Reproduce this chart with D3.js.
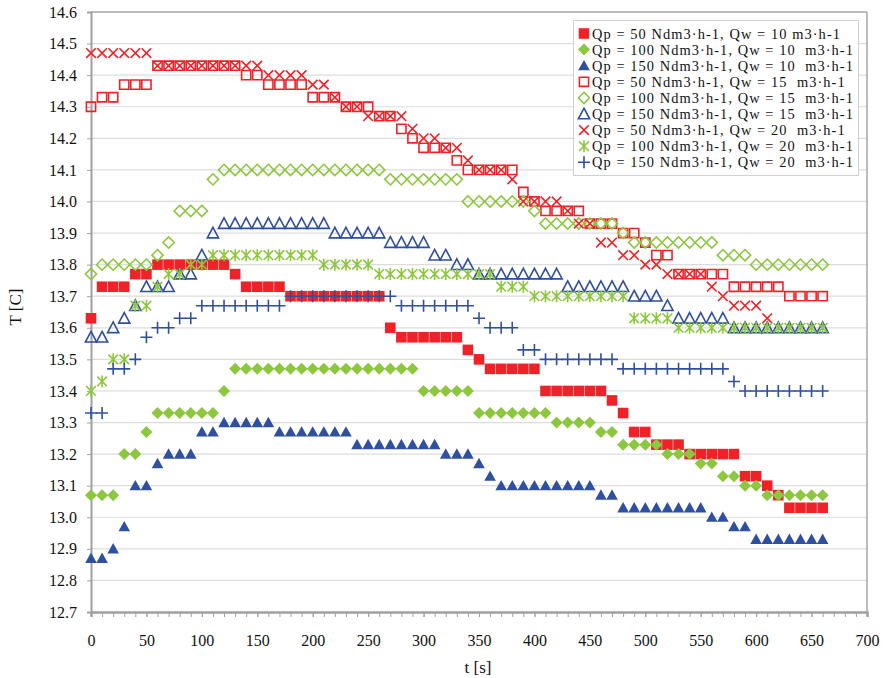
<!DOCTYPE html>
<html><head><meta charset="utf-8">
<script src="https://cdn.jsdelivr.net/npm/d3@7/dist/d3.min.js"></script>
<style>
html,body{margin:0;padding:0;background:#fff;}
svg{display:block;font-family:"Liberation Serif","Times New Roman",serif;}
</style></head>
<body><svg id="c" width="884" height="678"></svg>
<script>
// time axis (s)
const times = d3.range(0, 661, 10);
const xTicks = [0,50,100,150,200,250,300,350,400,450,500,550,600,650,700];
const yTicks = [12.7,12.8,12.9,13.0,13.1,13.2,13.3,13.4,13.5,13.6,13.7,13.8,13.9,14.0,14.1,14.2,14.3,14.4,14.5,14.6];

function runs(list){ const out=[]; list.forEach(([v,n])=>{for(let i=0;i<n;i++) out.push(v);}); return out; }

// Qp = 50, Qw = 10 (filled red squares)
const s50_10 = runs([[13.63,1],[13.73,3],[13.77,2],[13.8,7],[13.77,1],[13.73,4],[13.7,9],[13.6,1],[13.57,6],[13.53,1],[13.5,1],[13.47,5],[13.4,6],[13.37,1],[13.33,1],[13.27,2],[13.23,3],[13.2,5],[13.13,2],[13.1,1],[13.07,1],[13.03,4]]);
// Qp = 100, Qw = 10 (filled green diamonds)
const s100_10 = runs([[13.07,3],[13.2,2],[13.27,1],[13.33,6],[13.4,1],[13.47,17],[13.4,5],[13.33,7],[13.3,4],[13.27,2],[13.23,4],[13.2,3],[13.17,2],[13.13,2],[13.1,2],[13.07,6]]);
// Qp = 150, Qw = 10 (filled blue triangles)
const s150_10 = runs([[12.87,2],[12.9,1],[12.97,1],[13.1,2],[13.17,1],[13.2,3],[13.27,2],[13.3,5],[13.27,7],[13.23,8],[13.2,3],[13.17,1],[13.13,1],[13.1,9],[13.07,2],[13.03,8],[13.0,2],[12.97,2],[12.93,7]]);
// Qp = 50, Qw = 15 (open red squares)
const s50_15 = runs([[14.3,1],[14.33,2],[14.37,3],[14.43,8],[14.4,2],[14.37,4],[14.33,3],[14.3,3],[14.27,2],[14.23,1],[14.2,1],[14.17,3],[14.13,1],[14.1,5],[14.03,1],[14.0,1],[13.97,4],[13.93,3],[13.9,2],[13.87,1],[13.83,2],[13.77,5],[13.73,5],[13.7,4]]);
// Qp = 100, Qw = 15 (open green diamonds)
const s100_15 = runs([[13.77,1],[13.8,5],[13.83,1],[13.87,1],[13.97,3],[14.07,1],[14.1,15],[14.07,7],[14.0,6],[13.97,1],[13.93,7],[13.9,1],[13.87,8],[13.83,3],[13.8,7]]);
// Qp = 150, Qw = 15 (open blue triangles)
const s150_15 = runs([[13.57,2],[13.6,1],[13.63,1],[13.67,1],[13.73,3],[13.77,2],[13.83,1],[13.9,1],[13.93,10],[13.9,5],[13.87,4],[13.83,2],[13.8,2],[13.77,8],[13.73,6],[13.7,3],[13.67,1],[13.63,5],[13.6,9]]);
// Qp = 50, Qw = 20 (red x) - ends at 610 s
const s50_20 = runs([[14.47,6],[14.43,10],[14.4,4],[14.37,2],[14.33,1],[14.3,2],[14.27,4],[14.23,1],[14.2,2],[14.17,2],[14.13,1],[14.1,3],[14.07,1],[14.0,4],[13.97,1],[13.93,2],[13.87,2],[13.83,2],[13.8,2],[13.77,4],[13.73,1],[13.7,1],[13.67,3],[13.63,1]]);
// Qp = 100, Qw = 20 (green asterisks)
const s100_20 = runs([[13.4,1],[13.43,1],[13.5,2],[13.67,2],[13.73,1],[13.77,2],[13.8,2],[13.83,10],[13.8,5],[13.77,11],[13.73,3],[13.7,9],[13.63,4],[13.6,14]]);
// Qp = 150, Qw = 20 (blue plus)
const s150_20 = runs([[13.33,2],[13.47,2],[13.5,1],[13.57,1],[13.6,2],[13.63,2],[13.67,8],[13.7,10],[13.67,7],[13.63,1],[13.6,3],[13.53,2],[13.5,7],[13.47,10],[13.43,1],[13.4,8]]);

const labels = [
  "Qp = 50 Ndm3·h-1, Qw = 10 m3·h-1",
  "Qp = 100 Ndm3·h-1, Qw = 10  m3·h-1",
  "Qp = 150 Ndm3·h-1, Qw = 10  m3·h-1",
  "Qp = 50 Ndm3·h-1, Qw = 15  m3·h-1",
  "Qp = 100 Ndm3·h-1, Qw = 15  m3·h-1",
  "Qp = 150 Ndm3·h-1, Qw = 15  m3·h-1",
  "Qp = 50 Ndm3·h-1, Qw = 20  m3·h-1",
  "Qp = 100 Ndm3·h-1, Qw = 20  m3·h-1",
  "Qp = 150 Ndm3·h-1, Qw = 20  m3·h-1"
];

const RED="#ee2228", GREEN="#8dc63f", BLUE="#2f4f9f";
const series = [
  {vals:s50_10, shape:"square", fill:true, color:RED},
  {vals:s100_10, shape:"diamond", fill:true, color:GREEN},
  {vals:s150_10, shape:"triangle", fill:true, color:BLUE},
  {vals:s50_15, shape:"square", fill:false, color:RED},
  {vals:s100_15, shape:"diamond", fill:false, color:GREEN},
  {vals:s150_15, shape:"triangle", fill:false, color:BLUE},
  {vals:s50_20, shape:"x", fill:false, color:RED},
  {vals:s100_20, shape:"star", fill:false, color:GREEN},
  {vals:s150_20, shape:"plus", fill:false, color:BLUE}
];

const svg = d3.select("#c");
const x = d3.scaleLinear().domain([0,700]).range([91,867]);
const y = d3.scaleLinear().domain([12.7,14.6]).range([612,12]);

// gridlines
svg.append("g").selectAll("line").data(yTicks.slice(1,-1)).join("line")
  .attr("x1",x(0)).attr("x2",x(700)).attr("y1",d=>y(d)).attr("y2",d=>y(d))
  .attr("stroke","#dcdcdc").attr("stroke-width",1.2);

// frame top/right
svg.append("line").attr("x1",x(0)).attr("x2",x(700)).attr("y1",y(14.6)).attr("y2",y(14.6)).attr("stroke","#a6a6a6").attr("stroke-width",1.5);
svg.append("line").attr("x1",x(700)).attr("x2",x(700)).attr("y1",y(14.6)).attr("y2",y(12.7)).attr("stroke","#a6a6a6").attr("stroke-width",1.5);

// axes
const yAxis = d3.axisLeft(y).tickValues(yTicks).tickFormat(d3.format(".1f")).tickSize(4).tickPadding(10);
svg.append("g").attr("transform",`translate(${x(0)},0)`).call(yAxis);
const xAxisMinor = d3.axisBottom(x).tickValues(d3.range(0,701,10)).tickFormat("").tickSize(5);
svg.append("g").attr("transform",`translate(0,${y(12.7)})`).call(xAxisMinor);
const xAxis = d3.axisBottom(x).tickValues(xTicks).tickFormat(d3.format("d")).tickSize(5).tickPadding(18);
svg.append("g").attr("transform",`translate(0,${y(12.7)})`).call(xAxis);
svg.selectAll(".domain").attr("stroke","#a0a0a0").attr("stroke-width",2);
svg.selectAll(".tick line").attr("stroke","#a0a0a0").attr("stroke-width",1);
svg.selectAll(".tick text").attr("font-family","Liberation Serif, serif").attr("font-size",16).attr("fill","#111");

svg.append("text").attr("x",478).attr("y",673).attr("text-anchor","middle").attr("font-size",17).attr("fill","#111").text("t [s]");
svg.append("text").attr("transform","translate(21,307) rotate(-90)").attr("text-anchor","middle").attr("font-size",17).attr("fill","#111").text("T [C]");

function shapePath(shape){
  switch(shape){
    case "square": return "M-5.3,-5.3H5.3V5.3H-5.3Z";
    case "diamond": return "M0,-6L6,0L0,6L-6,0Z";
    case "triangle": return "M0,-5.8L5.8,4.6H-5.8Z";
    case "x": return "M-4.8,-4.8L4.8,4.8M-4.8,4.8L4.8,-4.8";
    case "star": return "M-4.8,-4.8L4.8,4.8M-4.8,4.8L4.8,-4.8M0,-6V6";
    case "plus": return "M-6,0H6M0,-6V6";
  }
}
function openPath(shape){
  switch(shape){
    case "square": return "M-4.6,-4.6H4.6V4.6H-4.6Z";
    case "diamond": return "M0,-5.6L5.6,0L0,5.6L-5.6,0Z";
    case "triangle": return "M0,-5.8L5.6,4.8H-5.6Z";
    default: return shapePath(shape);
  }
}
function styleMark(sel, s){
  if(s.fill){ sel.attr("d",shapePath(s.shape)).attr("fill",s.color).attr("stroke","none"); }
  else { sel.attr("d",openPath(s.shape)).attr("fill","none").attr("stroke",s.color).attr("stroke-width",1.6); }
}

const plot = svg.append("g");
series.forEach(s=>{
  const pts = s.vals.map((v,i)=>({t:times[i], v}));
  plot.append("g").selectAll("path").data(pts).join("path")
    .attr("transform",d=>`translate(${x(d.t)},${y(d.v)})`)
    .call(sel=>styleMark(sel,s));
});

// legend
const lg = svg.append("g");
lg.append("rect").attr("x",573.5).attr("y",20.5).attr("width",285).attr("height",155).attr("fill","#fff").attr("stroke","#d0d0d0");
series.forEach((s,i)=>{
  const yy = 33.5 + i*16.1;
  lg.append("path").attr("transform",`translate(584,${yy})`).call(sel=>styleMark(sel,s));
  lg.append("text").attr("x",592).attr("y",yy+5).attr("font-size",14.4).attr("letter-spacing",1.08).attr("fill","#111")
    .attr("xml:space","preserve").style("white-space","pre").text(labels[i]);
});
</script></body></html>
